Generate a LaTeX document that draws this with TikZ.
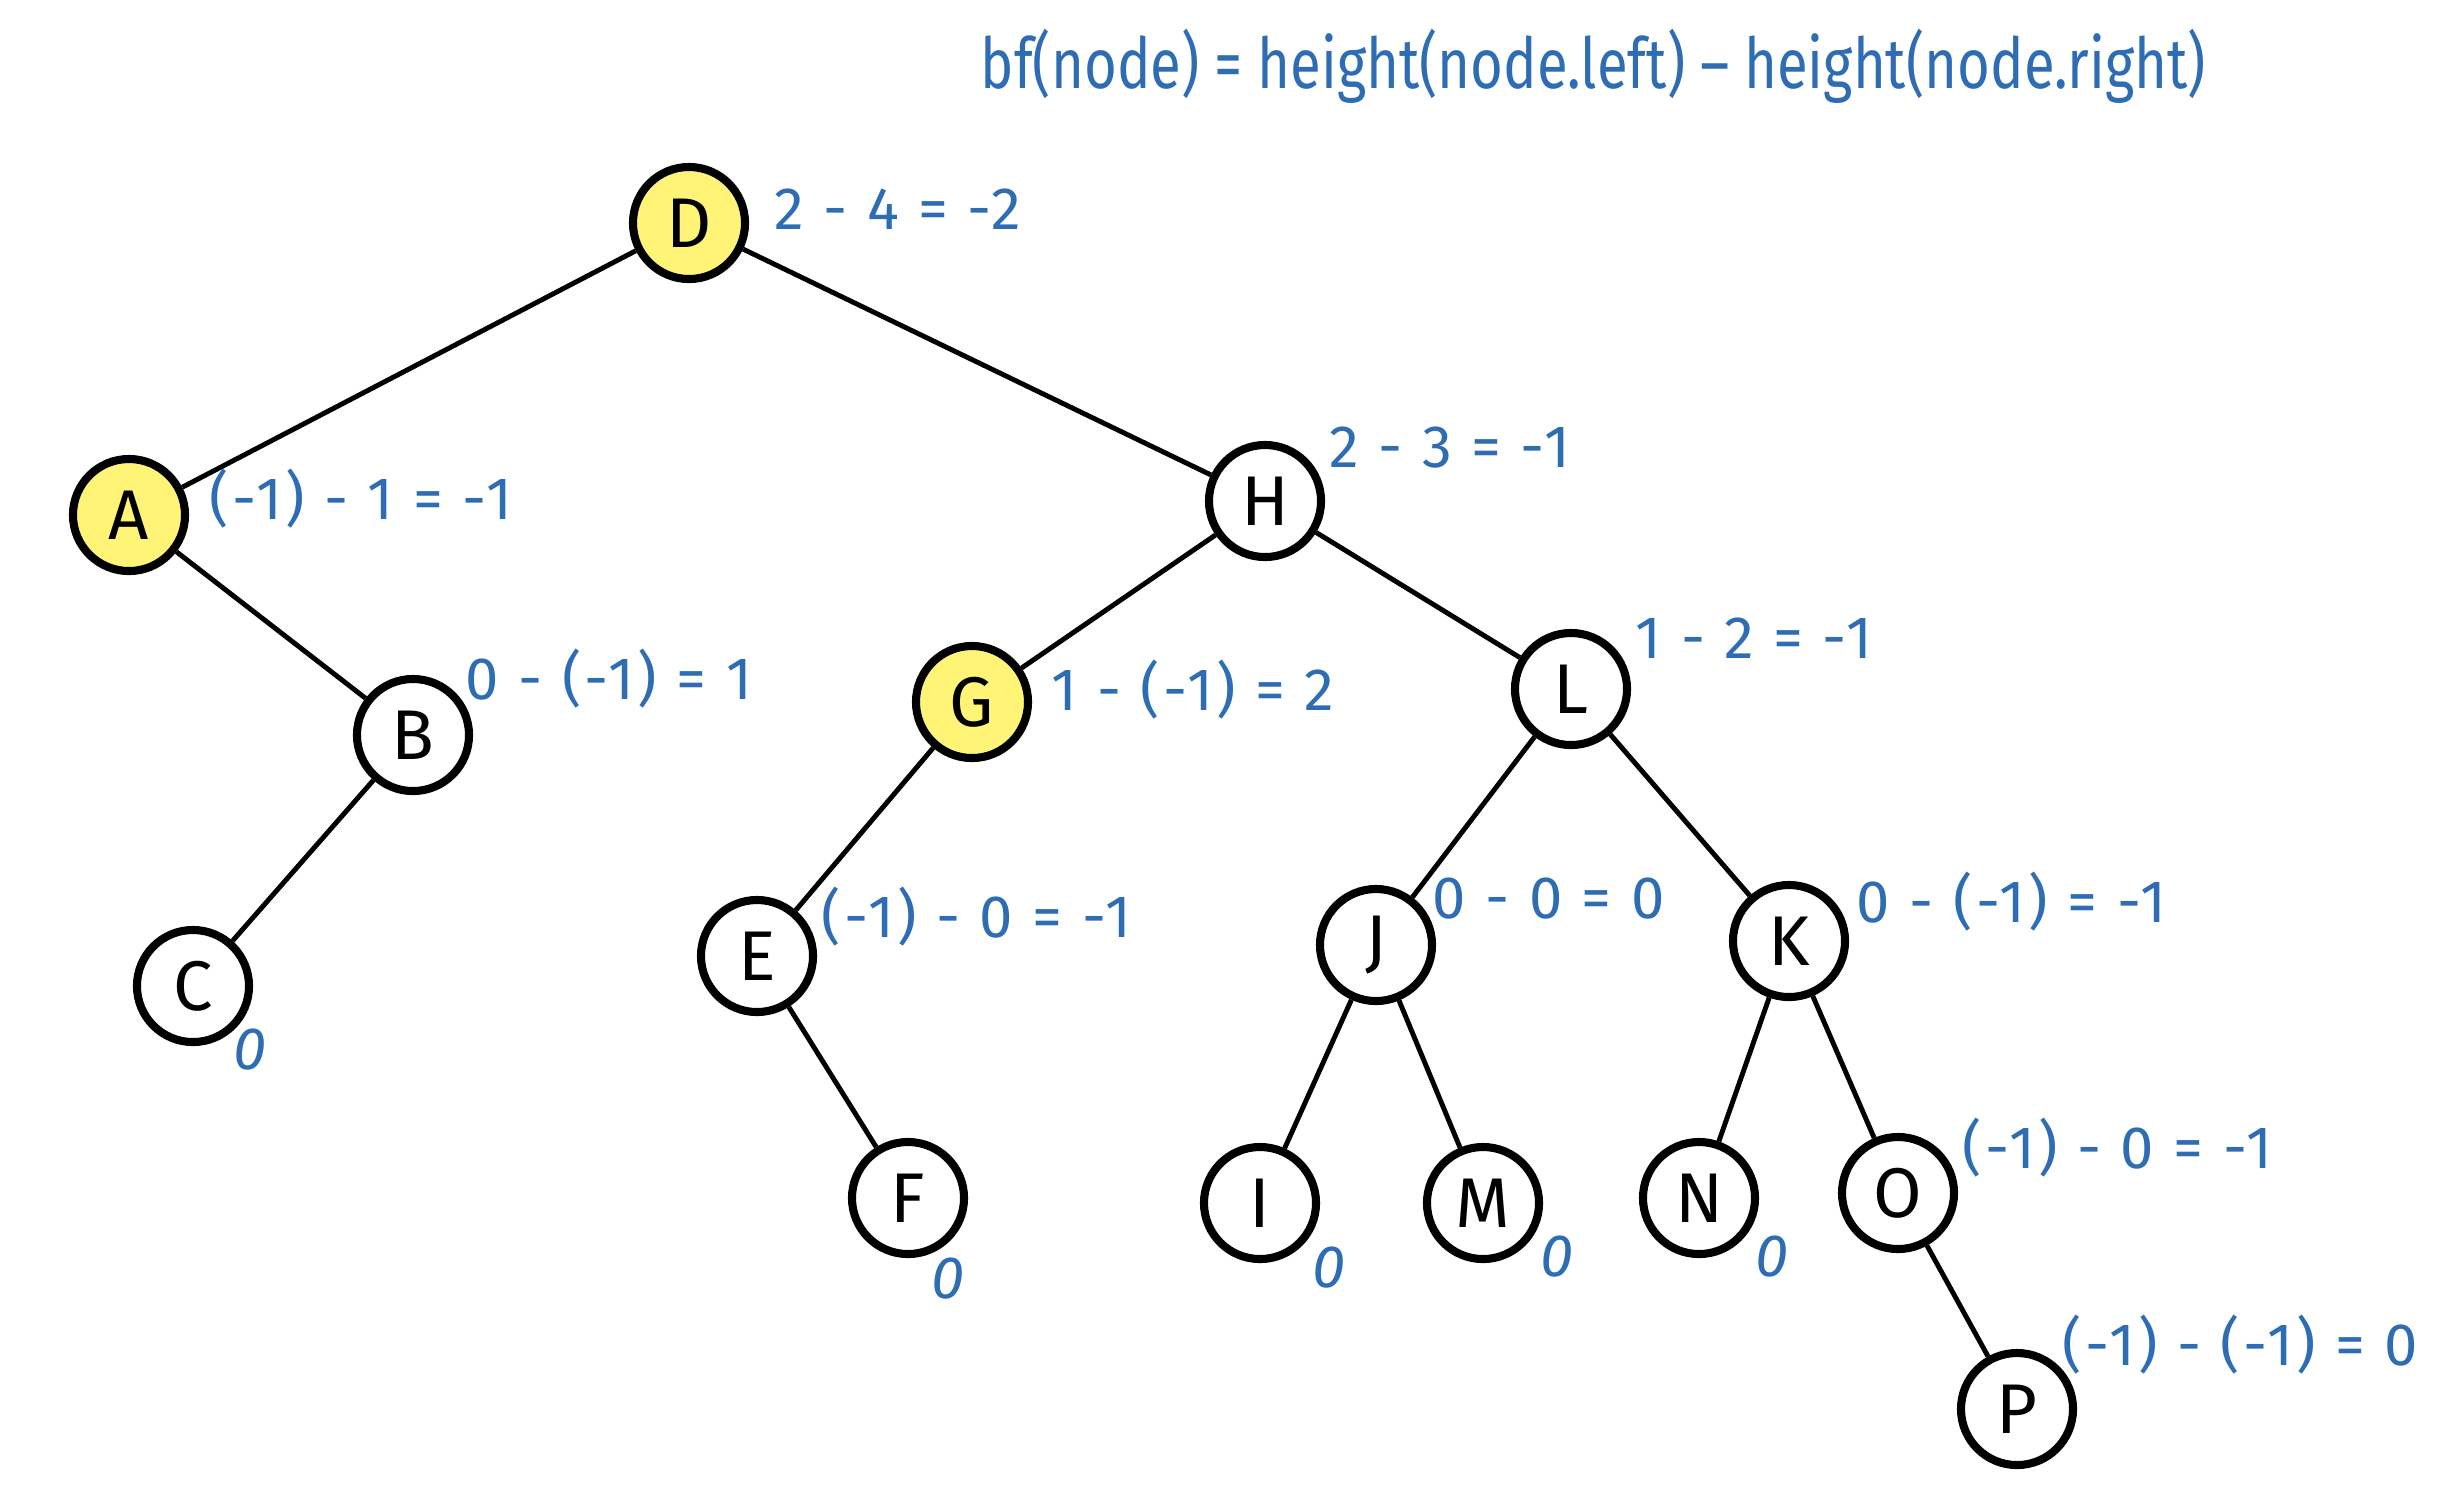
\documentclass[tikz,border=0pt]{standalone}
\usepackage{fontspec}
\usepackage{graphicx}
\setmainfont{Fira Sans}
\newfontfamily\labfont[LetterSpace=6]{Fira Sans}
\newfontfamily\titlefont{Fira Sans}
\definecolor{bfblue}{RGB}{46,109,180}
\definecolor{hiyellow}{RGB}{255,244,118}
\tikzset{
  tnode/.style={circle, draw=black, line width=2.3pt, minimum size=1.12cm, inner sep=0pt, fill=white, font=\fontsize{20}{22}\selectfont},
  hinode/.style={tnode, fill=hiyellow},
  edge/.style={line width=1.4pt, black},
  bflab/.style={anchor=west, text=bfblue, inner sep=0pt, font=\labfont\fontsize{17}{19}\selectfont},
  zerolab/.style={anchor=center, text=bfblue, inner sep=0pt, font=\labfont\itshape\fontsize{17}{19}\selectfont}
}
\begin{document}
\begin{tikzpicture}[x=0.01cm,y=-0.01cm]
\useasboundingbox (0,0) rectangle (2446,1508);
% nodes
\node[hinode] (D) at (689,223) {D};
\node[hinode] (A) at (129,515) {A};
\node[tnode] (H) at (1265,501) {H};
\node[tnode] (B) at (413,735) {B};
\node[hinode] (G) at (972,702) {G};
\node[tnode] (L) at (1571,689) {L};
\node[tnode] (C) at (193,986) {C};
\node[tnode] (E) at (757,956) {E};
\node[tnode] (J) at (1376,945) {J};
\node[tnode] (K) at (1789,941) {K};
\node[tnode] (F) at (908,1198) {F};
\node[tnode] (I) at (1260,1203) {I};
\node[tnode] (M) at (1483,1203) {M};
\node[tnode] (N) at (1699,1198) {N};
\node[tnode] (O) at (1898,1193) {O};
\node[tnode] (P) at (2017,1409) {P};
% edges
\draw[edge] (D) -- (A);
\draw[edge] (D) -- (H);
\draw[edge] (A) -- (B);
\draw[edge] (B) -- (C);
\draw[edge] (H) -- (G);
\draw[edge] (H) -- (L);
\draw[edge] (G) -- (E);
\draw[edge] (E) -- (F);
\draw[edge] (L) -- (J);
\draw[edge] (L) -- (K);
\draw[edge] (J) -- (I);
\draw[edge] (J) -- (M);
\draw[edge] (K) -- (N);
\draw[edge] (K) -- (O);
\draw[edge] (O) -- (P);
% title
\node[anchor=west, text=bfblue, inner sep=0pt, font=\titlefont\fontsize{20}{22}\selectfont] (title) at (980,66) {\scalebox{0.8}[1]{bf(node) = height(node.left) – height(node.right)}};
% balance factor labels
\node[bflab] (lD) at (774,209) {2 - 4 = -2};
\node[bflab] (lA) at (209,499) {(-1) - 1 = -1};
\node[bflab] (lH) at (1329,448) {2 - 3 = -1};
\node[bflab] (lB) at (465,679) {0 - (-1) = 1};
\node[bflab] (lG) at (1051,690) {1 - (-1) = 2};
\node[bflab] (lL) at (1635,638) {1 - 2 = -1};
\node[bflab] (lE) at (821,917) {(-1) - 0 = -1};
\node[bflab] (lJ) at (1432,899) {0 - 0 = 0};
\node[bflab] (lK) at (1856,902) {0 - (-1) = -1};
\node[bflab] (lO) at (1962,1148) {(-1) - 0 = -1};
\node[bflab] (lP) at (2062,1345) {(-1) - (-1) = 0};
\node[zerolab] (zC) at (250,1050) {0};
\node[zerolab] (zF) at (948,1279) {0};
\node[zerolab] (zI) at (1329,1268) {0};
\node[zerolab] (zM) at (1557,1257) {0};
\node[zerolab] (zN) at (1772,1257) {0};
\end{tikzpicture}
\end{document}
